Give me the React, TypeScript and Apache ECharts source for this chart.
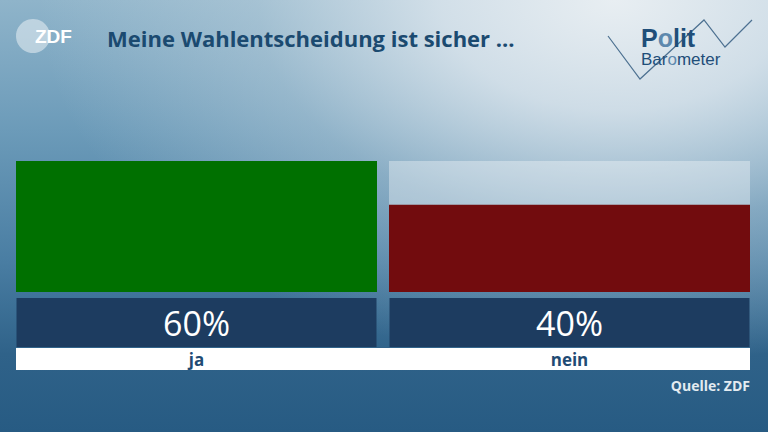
import React, { useEffect, useRef } from "react";
import * as echarts from "echarts";

const categories = ["ja", "nein"];
const values = [60, 40];
const barColors = ["#007000", "#720c0e"];
const title = "Meine Wahlentscheidung ist sicher ...";
const source = "Quelle: ZDF";

export default function App() {
  const ref = useRef<HTMLDivElement>(null);
  useEffect(() => {
    if (!ref.current) return;
    const chart = echarts.init(ref.current, null, { renderer: "svg" });
    chart.setOption({
      animation: false,
      backgroundColor: "transparent",
      grid: { left: 10, right: 12, top: 161, bottom: 140 },
      xAxis: {
        type: "category",
        data: categories,
        axisLine: { show: false },
        axisTick: { show: false },
        axisLabel: {
          margin: 6,
          interval: 0,
          formatter: (v: string, i: number) => `{p|${values[i]}%}\n{c|${v}}`,
          rich: {
            p: {
              width: 360,
              height: 49,
              lineHeight: 49,
              backgroundColor: "#1d3c60",
              color: "#ffffff",
              fontSize: 34,
              fontFamily: "Open Sans",
              fontWeight: 400,
              align: "center",
            },
            c: {
              width: 360,
              height: 22,
              lineHeight: 23,
              color: "#1f4b74",
              fontSize: 17,
              fontWeight: "bold",
              fontFamily: "Open Sans",
              align: "center",
              padding: [1, 0, 0, 0],
            },
          },
        },
      },
      yAxis: { type: "value", min: 0, max: 60, show: false },
      series: [
        {
          type: "bar",
          barWidth: 361,
          data: values.map((v, i) => ({ value: v, itemStyle: { color: barColors[i] } })),
          showBackground: true,
          backgroundStyle: { color: "rgba(255,255,255,0.35)" },
          z: 5,
        },
      ],
      graphic: [
        { type: "rect", z: -1, shape: { x: 16, y: 348, width: 734, height: 22 }, style: { fill: "#ffffff" } },
        { type: "circle", shape: { cx: 33, cy: 36, r: 17 }, style: { fill: "rgba(255,255,255,0.45)" } },
        {
          type: "text",
          x: 35,
          y: 36,
          style: {
            text: "ZDF",
            fill: "#ffffff",
            font: "bold 19px 'Liberation Sans'",
            textVerticalAlign: "middle",
          },
        },
        {
          type: "text",
          x: 107,
          y: 38,
          style: {
            text: title,
            fill: "#1b4a70",
            font: "bold 22px 'Open Sans'",
            textVerticalAlign: "middle",
          },
        },
        {
          type: "polyline",
          shape: { points: [[608, 36], [640, 79], [704, 20], [725, 47], [752, 20]] },
          style: { stroke: "#4d7191", lineWidth: 1.2, fill: "none" },
        },
        {
          type: "text",
          x: 641,
          y: 49.5,
          style: {
            text: "{a|P}{b|o}{a|lit}",
            rich: {
              a: { fill: "#1f4e79", font: "bold 25px 'Liberation Sans'", lineHeight: 24 },
              b: { fill: "#5d88ad", font: "bold 25px 'Liberation Sans'", lineHeight: 24 },
            },
            textVerticalAlign: "bottom",
          },
        },
        {
          type: "text",
          x: 641,
          y: 50.5,
          style: {
            text: "{c|Bar}{d|o}{c|meter}",
            rich: {
              c: { fill: "#1f4e79", font: "17px 'Liberation Sans'", lineHeight: 17 },
              d: { fill: "#5d88ad", font: "17px 'Liberation Sans'", lineHeight: 17 },
            },
            textVerticalAlign: "top",
          },
        },
        {
          type: "text",
          x: 750,
          y: 385,
          style: {
            text: source,
            fill: "#e3ebf1",
            font: "bold 14px 'Open Sans'",
            textAlign: "right",
            textVerticalAlign: "middle",
          },
        },
      ],
    });
    return () => chart.dispose();
  }, []);
  return (
    <div
      ref={ref}
      style={{
        position: "fixed",
        left: 0,
        top: 0,
        width: 768,
        height: 432,
        background:
          "radial-gradient(ellipse 75% 85% at 80% 0%, rgba(232,238,242,1) 0%, rgba(222,231,238,0.85) 30%, rgba(200,216,226,0.4) 62%, rgba(200,216,226,0) 100%), linear-gradient(180deg, #8fb4ca 0%, #6c9bb9 30%, #4a7ea3 60%, #2f6289 82%, #275b83 100%)",
      }}
    />
  );
}
